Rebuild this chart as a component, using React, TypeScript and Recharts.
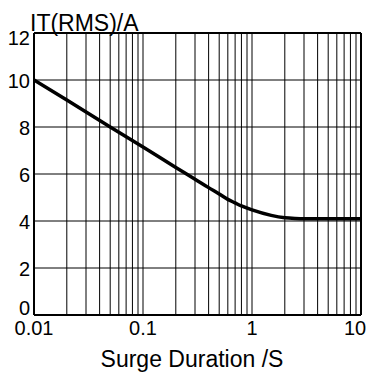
import React from "react";
import {
  LineChart,
  Line,
  XAxis,
  YAxis,
  CartesianGrid,
  ReferenceLine,
} from "recharts";

// surge duration (s) vs IT(RMS) (A)
const durations = [0.01, 0.02, 0.05, 0.1, 0.2, 0.3, 0.4, 0.5, 0.6, 0.7, 0.8, 1, 1.5, 2, 2.5, 3, 5, 10];
const currents = [10, 9.15, 8.0, 7.15, 6.28, 5.78, 5.42, 5.15, 4.92, 4.77, 4.64, 4.47, 4.24, 4.14, 4.11, 4.1, 4.1, 4.1];

const xTicks = [0.01, 0.1, 1, 10];
const yTicks = [0, 2, 4, 6, 8, 10, 12];
const minorX = [
  0.02, 0.03, 0.04, 0.05, 0.06, 0.07, 0.08, 0.09,
  0.2, 0.3, 0.4, 0.5, 0.6, 0.7, 0.8, 0.9,
  2, 3, 4, 5, 6, 7, 8, 9,
];

const FONT = "'Liberation Sans', Arial, sans-serif";

const data = durations.map((d, i) => ({ t: d, i: currents[i] }));

const XTick = (props: any) => {
  const { x, y, payload } = props;
  const shift = payload.value === 10 ? -6 : 0;
  return (
    <text
      x={x + shift}
      y={y}
      dy="0.71em"
      textAnchor="middle"
      fill="#000"
      fontSize={20}
      fontFamily={FONT}
    >
      {payload.value}
    </text>
  );
};

const YTick = (props: any) => {
  const { x, y, payload } = props;
  // top label sits a little below its line, bottom one above the axis
  const shift = payload.value === 12 ? 5 : payload.value === 0 ? -7 : 1;
  return (
    <text
      x={x}
      y={y + shift}
      dy="0.355em"
      textAnchor="end"
      fill="#000"
      fontSize={20}
      fontFamily={FONT}
    >
      {payload.value}
    </text>
  );
};

export default function App() {
  return (
    <div style={{ position: "absolute", left: 0, top: 0, width: 372, height: 379, background: "#fff" }}>
      <LineChart
        width={372}
        height={379}
        data={data}
        margin={{ top: 33, right: 11, bottom: 0, left: 0 }}
      >
        <CartesianGrid vertical={false} stroke="#000" strokeWidth={1} />
        {minorX.map((v) => (
          <ReferenceLine key={v} x={v} stroke="#000" strokeWidth={1} />
        ))}
        <ReferenceLine x={0.1} stroke="#000" strokeWidth={1} />
        <ReferenceLine x={1} stroke="#000" strokeWidth={1} />
        <ReferenceLine y={12} stroke="#000" strokeWidth={2} />
        <ReferenceLine x={10} stroke="#000" strokeWidth={2} />
        <XAxis
          dataKey="t"
          type="number"
          scale="log"
          domain={[0.01, 10]}
          ticks={xTicks}
          allowDataOverflow
          height={64}
          tickSize={0}
          tickMargin={6}
          axisLine={{ stroke: "#000", strokeWidth: 2 }}
          tickLine={false}
          tick={<XTick />}
        />
        <YAxis
          type="number"
          domain={[0, 12]}
          ticks={yTicks}
          width={34}
          tickSize={0}
          tickMargin={4}
          axisLine={{ stroke: "#000", strokeWidth: 2 }}
          tickLine={false}
          tick={<YTick />}
        />
        <Line
          type="monotone"
          dataKey="i"
          stroke="#000"
          strokeWidth={3.5}
          dot={false}
          isAnimationActive={false}
        />
      </LineChart>
      <svg
        width={372}
        height={379}
        style={{ position: "absolute", left: 0, top: 0, pointerEvents: "none" }}
      >
        <text x={30} y={31} fontSize={23} fontFamily={FONT} fill="#000">
          IT(RMS)/A
        </text>
        <text x={192} y={367} fontSize={23} fontFamily={FONT} fill="#000" textAnchor="middle">
          Surge Duration /S
        </text>
      </svg>
    </div>
  );
}
